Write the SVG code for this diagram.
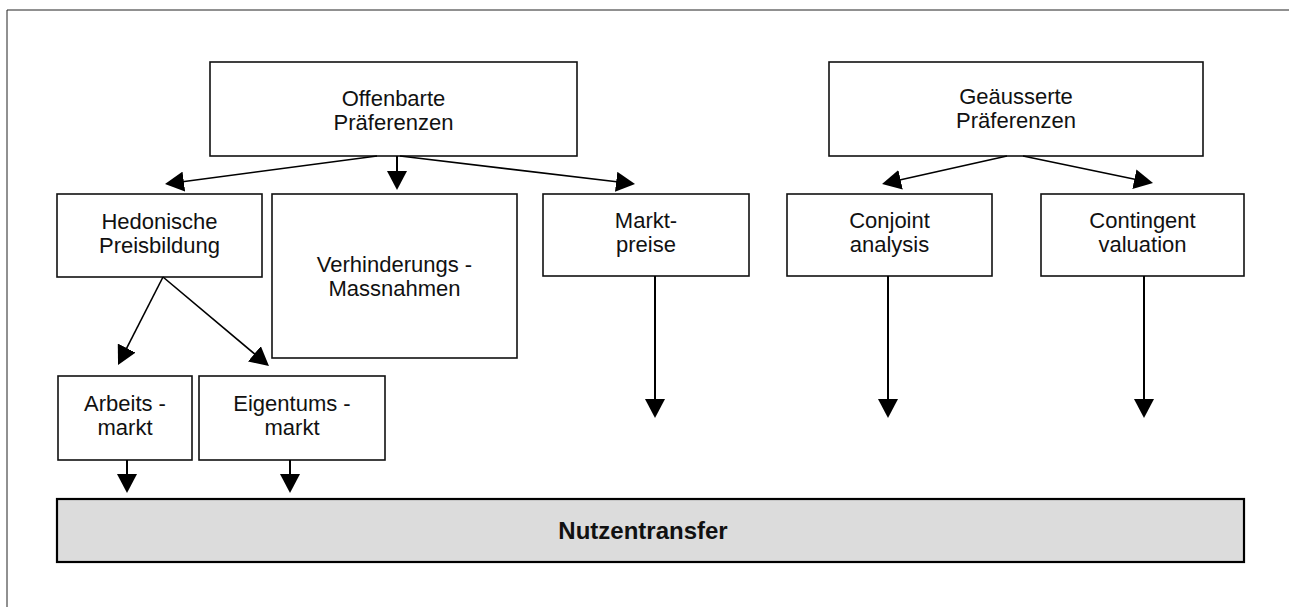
<svg xmlns="http://www.w3.org/2000/svg" width="1289" height="607" viewBox="0 0 1289 607">
<style>
.box{fill:#fff;stroke:#111;stroke-width:1.6}
.t{font-family:"Liberation Sans",Arial,sans-serif;font-size:22px;fill:#111;text-anchor:middle}
.tb{font-family:"Liberation Sans",Arial,sans-serif;font-size:24px;font-weight:bold;fill:#111;text-anchor:middle}
.c{stroke:#000;stroke-width:1.6;fill:none;marker-end:url(#ah)}
.v{stroke:#000;stroke-width:2;fill:none;marker-end:url(#ah)}
</style>
<defs>
<marker id="ah" markerUnits="userSpaceOnUse" markerWidth="20" markerHeight="20" refX="9" refY="10" orient="auto">
<path d="M0,0 L19,10 L0,20 Z" fill="#000"/>
</marker>
</defs>
<rect width="1289" height="607" fill="#fff"/>
<path d="M7,607 V10 H1289" fill="none" stroke="#222" stroke-width="1"/>

<g id="offenbarte">
<rect class="box" x="210" y="62" width="367" height="94"/>
<text class="t" x="393.5" y="106">Offenbarte</text>
<text class="t" x="393.5" y="130">Präferenzen</text>
</g>
<g id="geaeusserte">
<rect class="box" x="829" y="62" width="374" height="94"/>
<text class="t" x="1016" y="104">Geäusserte</text>
<text class="t" x="1016" y="128">Präferenzen</text>
</g>
<g id="hedonische">
<rect class="box" x="57" y="194" width="205" height="83"/>
<text class="t" x="159.5" y="229">Hedonische</text>
<text class="t" x="159.5" y="253">Preisbildung</text>
</g>
<g id="verhinderung">
<rect class="box" x="272" y="194" width="245" height="164"/>
<text class="t" x="394.5" y="272">Verhinderungs -</text>
<text class="t" x="394.5" y="296">Massnahmen</text>
</g>
<g id="marktpreise">
<rect class="box" x="543" y="194" width="206" height="82"/>
<text class="t" x="646" y="228">Markt-</text>
<text class="t" x="646" y="252">preise</text>
</g>
<g id="conjoint">
<rect class="box" x="787" y="194" width="205" height="82"/>
<text class="t" x="889.5" y="228">Conjoint</text>
<text class="t" x="889.5" y="252">analysis</text>
</g>
<g id="contingent">
<rect class="box" x="1041" y="194" width="203" height="82"/>
<text class="t" x="1142.5" y="228">Contingent</text>
<text class="t" x="1142.5" y="252">valuation</text>
</g>
<g id="arbeitsmarkt">
<rect class="box" x="58" y="376" width="134" height="84"/>
<text class="t" x="125" y="411">Arbeits -</text>
<text class="t" x="125" y="435">markt</text>
</g>
<g id="eigentumsmarkt">
<rect class="box" x="199" y="376" width="186" height="84"/>
<text class="t" x="292" y="411">Eigentums -</text>
<text class="t" x="292" y="435">markt</text>
</g>
<g id="nutzentransfer">
<rect x="57" y="499" width="1187" height="63" fill="#dcdcdc" stroke="#000" stroke-width="2.2"/>
<text class="tb" x="643" y="539">Nutzentransfer</text>
</g>

<g id="connectors">
<line class="c" x1="377" y1="156" x2="174.9" y2="182.7"/>
<line class="v" x1="397" y1="156" x2="397" y2="180"/>
<line class="c" x1="400" y1="156" x2="625.1" y2="182.8"/>
<line class="c" x1="1007" y1="156" x2="891.8" y2="181.8"/>
<line class="c" x1="1023" y1="156" x2="1143.2" y2="181"/>
<line class="c" x1="163" y1="277" x2="122.6" y2="356.1"/>
<line class="c" x1="163" y1="277" x2="261.3" y2="359.6"/>
<line class="v" x1="655" y1="276" x2="655" y2="408"/>
<line class="v" x1="888" y1="276" x2="888" y2="408"/>
<line class="v" x1="1144" y1="276" x2="1144" y2="408"/>
<line class="v" x1="127" y1="460" x2="127" y2="483"/>
<line class="v" x1="290" y1="460" x2="290" y2="483"/>
</g>
</svg>
